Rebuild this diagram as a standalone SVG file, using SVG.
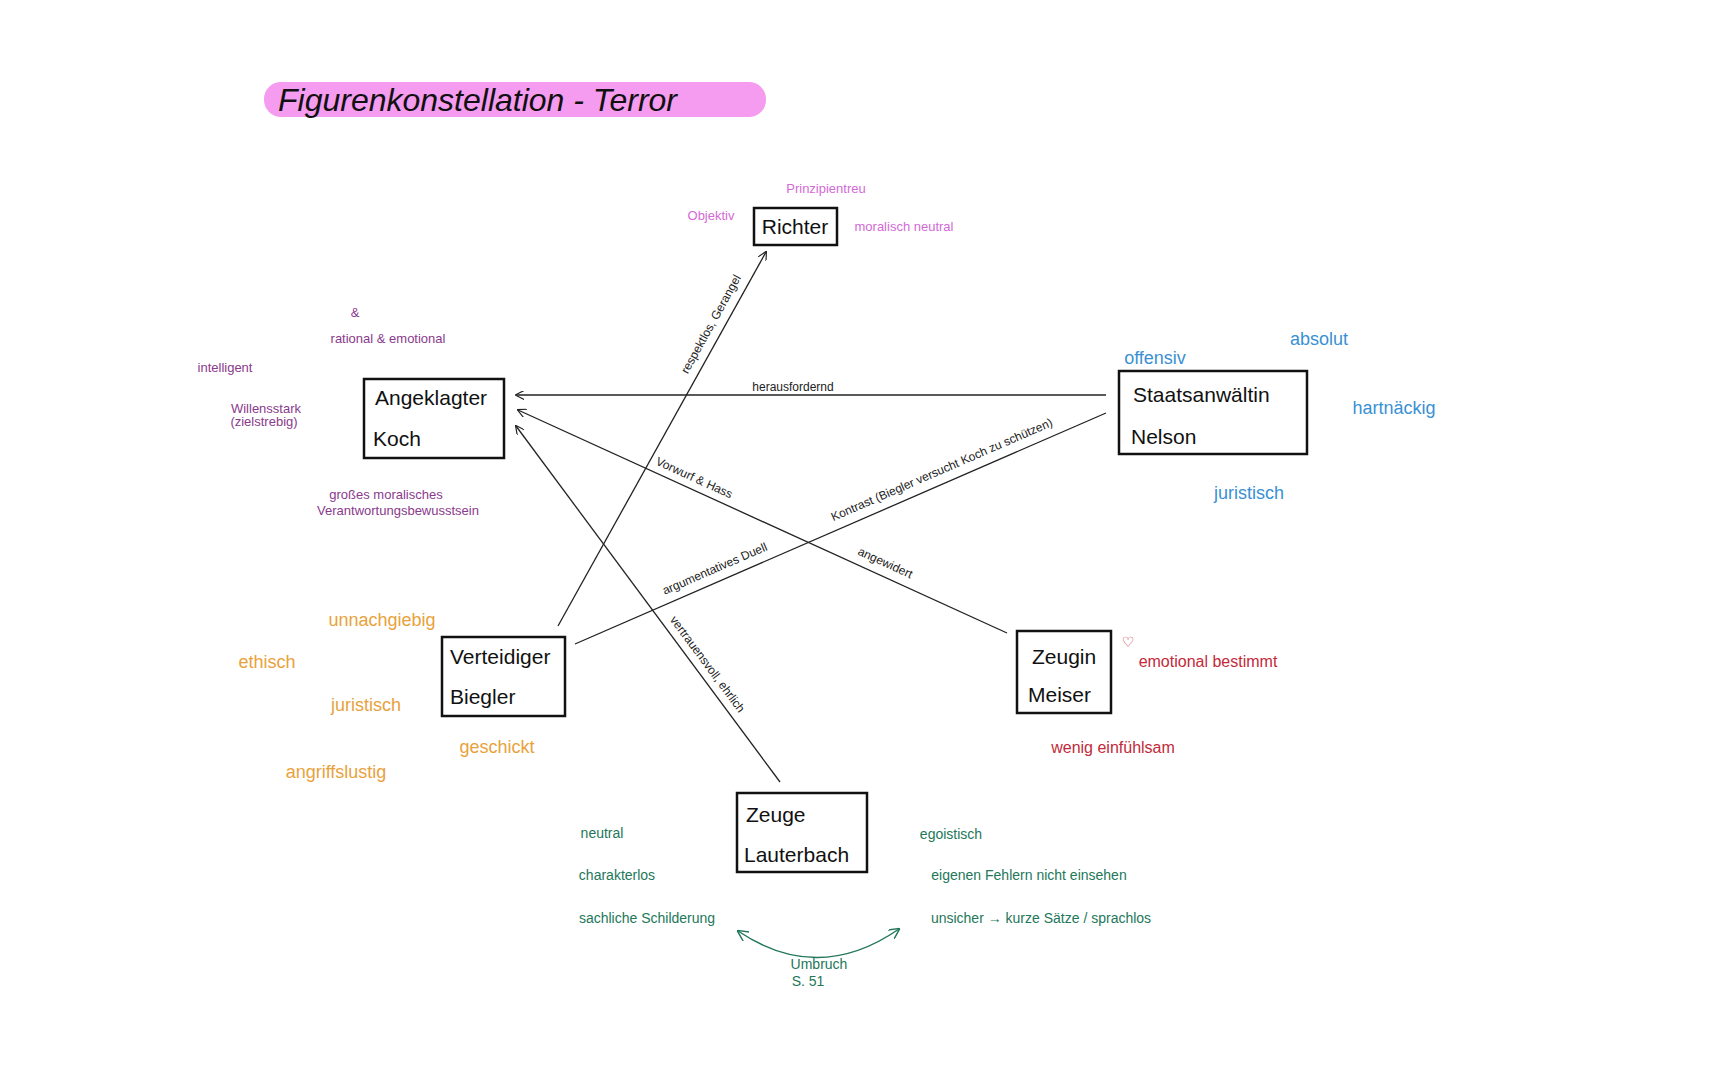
<svg xmlns="http://www.w3.org/2000/svg" width="1728" height="1080" viewBox="0 0 1728 1080">
<style>
text{font-family:"Liberation Sans","DejaVu Sans",sans-serif}
.box{fill:#fff;stroke:#111;stroke-width:2.5}
.name{font-size:21px;fill:#111}
.ln{stroke:#222;stroke-width:1.3;fill:none}
.lb{font-size:12px;fill:#222;text-anchor:middle}
.pk{fill:#d36ad6;font-size:13px}
.pu{fill:#8a3a8c;font-size:13px}
.bl{fill:#3a90d4;font-size:18px}
.or{fill:#e8a23c;font-size:18px}
.rd{fill:#c22a3a;font-size:16px}
.gr{fill:#23775a;font-size:14px}
</style>
<defs>
<marker id="ar" viewBox="0 0 10 10" refX="9" refY="5" markerWidth="9" markerHeight="9" orient="auto-start-reverse" markerUnits="userSpaceOnUse"><path d="M0,0 L10,5 L0,10" fill="none" stroke="#222" stroke-width="1.3"/></marker>
<marker id="ag" viewBox="0 0 10 10" refX="9" refY="5" markerWidth="11" markerHeight="11" orient="auto-start-reverse" markerUnits="userSpaceOnUse"><path d="M0,0 L10,5 L0,10" fill="none" stroke="#23775a" stroke-width="1.3"/></marker>
</defs>
<rect width="1728" height="1080" fill="#fff"/>
<g id="title">
<rect x="264" y="82" width="502" height="35" rx="17" fill="#f59cf0"/>
<text x="278" y="111" font-size="32" fill="#111" font-style="italic">Figurenkonstellation - Terror</text>
</g>
<g id="connectors">
<line class="ln" x1="558" y1="626" x2="766" y2="252" marker-end="url(#ar)"/>
<line class="ln" x1="1106" y1="395" x2="516" y2="395" marker-end="url(#ar)"/>
<line class="ln" x1="1007" y1="633" x2="518" y2="410" marker-end="url(#ar)"/>
<line class="ln" x1="780" y1="782" x2="516" y2="426" marker-end="url(#ar)"/>
<line class="ln" x1="575" y1="644" x2="1106" y2="413"/>
<path d="M738,931 Q818,985 899,929" stroke="#23775a" stroke-width="1.5" fill="none" marker-start="url(#ag)" marker-end="url(#ag)"/>
<text class="lb" transform="translate(718,328) rotate(-61)" y="-4">respektlos, Gerangel</text>
<text class="lb" x="793" y="391" font-size="15">herausfordernd</text>
<text class="lb" transform="translate(691,485) rotate(24.5)" y="-4">Vorwurf &amp; Hass</text>
<text class="lb" transform="translate(882,570) rotate(24.5)" y="-4">angewidert</text>
<text class="lb" transform="translate(701,669) rotate(53.4)" y="-4">vertrauensvoll, ehrlich</text>
<text class="lb" transform="translate(718,576) rotate(-23.5)" y="-4">argumentatives Duell</text>
<text class="lb" transform="translate(945,477) rotate(-23.5)" y="-4">Kontrast (Biegler versucht Koch zu schützen)</text>
<text class="gr" x="819" y="969" text-anchor="middle">Umbruch</text>
<text class="gr" x="808" y="986" text-anchor="middle" font-size="13">S. 51</text>
</g>
<g id="richter">
<rect class="box" x="754" y="208" width="83" height="37"/>
<text class="name" x="795" y="234" text-anchor="middle">Richter</text>
<text class="pk" x="826" y="193" text-anchor="middle">Prinzipientreu</text>
<text class="pk" x="711" y="220" text-anchor="middle" font-size="15">Objektiv</text>
<text class="pk" x="904" y="231" text-anchor="middle">moralisch neutral</text>
</g>
<g id="koch">
<rect class="box" x="364" y="379" width="140" height="79"/>
<text class="name" x="375" y="405">Angeklagter</text>
<text class="name" x="373" y="446">Koch</text>
<text class="pu" x="355" y="317" text-anchor="middle" font-size="14">&amp;</text>
<text class="pu" x="388" y="343" text-anchor="middle" font-size="18">rational &amp; emotional</text>
<text class="pu" x="225" y="372" text-anchor="middle">intelligent</text>
<text class="pu" x="266" y="413" text-anchor="middle" font-size="11">Willensstark</text>
<text class="pu" x="264" y="426" text-anchor="middle" font-size="9">(zielstrebig)</text>
<text class="pu" x="386" y="499" text-anchor="middle" font-size="15">großes moralisches</text>
<text class="pu" x="398" y="515" text-anchor="middle" font-size="14">Verantwortungsbewusstsein</text>
</g>
<g id="nelson">
<rect class="box" x="1119" y="371" width="188" height="83"/>
<text class="name" x="1133" y="402">Staatsanwältin</text>
<text class="name" x="1131" y="444">Nelson</text>
<text class="bl" x="1155" y="364" text-anchor="middle">offensiv</text>
<text class="bl" x="1319" y="345" text-anchor="middle">absolut</text>
<text class="bl" x="1394" y="414" text-anchor="middle">hartnäckig</text>
<text class="bl" x="1249" y="499" text-anchor="middle">juristisch</text>
</g>
<g id="biegler">
<rect class="box" x="442" y="637" width="123" height="79"/>
<text class="name" x="450" y="664">Verteidiger</text>
<text class="name" x="450" y="704">Biegler</text>
<text class="or" x="382" y="626" text-anchor="middle">unnachgiebig</text>
<text class="or" x="267" y="668" text-anchor="middle">ethisch</text>
<text class="or" x="366" y="711" text-anchor="middle">juristisch</text>
<text class="or" x="497" y="753" text-anchor="middle">geschickt</text>
<text class="or" x="336" y="778" text-anchor="middle" font-size="20">angriffslustig</text>
</g>
<g id="meiser">
<rect class="box" x="1017" y="631" width="94" height="82"/>
<text class="name" x="1032" y="664">Zeugin</text>
<text class="name" x="1028" y="702">Meiser</text>
<text x="1128" y="647" text-anchor="middle" fill="#c22a3a" font-size="14">♡</text>
<text class="rd" x="1208" y="667" text-anchor="middle">emotional bestimmt</text>
<text class="rd" x="1113" y="753" text-anchor="middle">wenig einfühlsam</text>
</g>
<g id="lauterbach">
<rect class="box" x="737" y="793" width="130" height="79"/>
<text class="name" x="746" y="822">Zeuge</text>
<text class="name" x="744" y="862">Lauterbach</text>
<text class="gr" x="602" y="838" text-anchor="middle">neutral</text>
<text class="gr" x="617" y="880" text-anchor="middle">charakterlos</text>
<text class="gr" x="647" y="923" text-anchor="middle">sachliche Schilderung</text>
<text class="gr" x="951" y="839" text-anchor="middle">egoistisch</text>
<text class="gr" x="1029" y="880" text-anchor="middle">eigenen Fehlern nicht einsehen</text>
<text class="gr" x="1041" y="923" text-anchor="middle">unsicher → kurze Sätze / sprachlos</text>
</g>
</svg>
